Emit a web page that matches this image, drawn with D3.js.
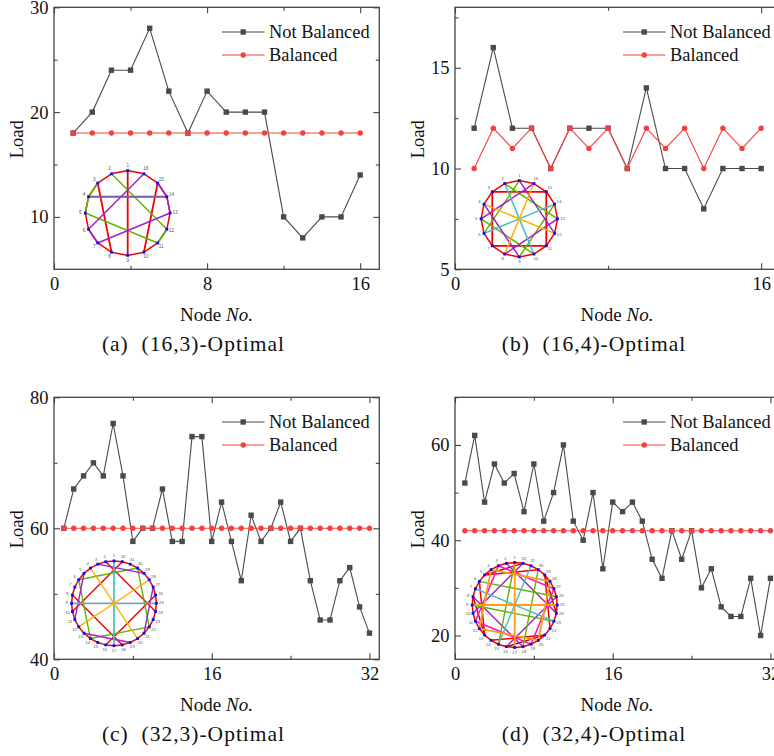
<!DOCTYPE html>
<html>
<head>
<meta charset="utf-8">
<script src="https://cdn.jsdelivr.net/npm/d3@7"></script>
<style>
  html, body { margin: 0; padding: 0; background: #fff; overflow: hidden; }
  svg { display: block; }
  text { font-family: "Liberation Serif", "Times New Roman", serif; fill: #111; }
  .domain { stroke: none; }
  .tick line { stroke: #444; stroke-width: 1.1; }
</style>
</head>
<body>
<script>
const seriesNames = ['Not Balanced', 'Balanced'];

// load per node
const notBalancedA = [18, 20, 24, 24, 28, 22, 18, 22, 20, 20, 20, 10, 8, 10, 10, 14];
const balancedA = [18, 18, 18, 18, 18, 18, 18, 18, 18, 18, 18, 18, 18, 18, 18, 18];

const notBalancedB = [12, 16, 12, 12, 10, 12, 12, 12, 10, 14, 10, 10, 8, 10, 10, 10];
const balancedB = [10, 12, 11, 12, 10, 12, 11, 12, 10, 12, 11, 12, 10, 12, 11, 12];

const notBalancedC = [60, 66, 68, 70, 68, 76, 68, 58, 60, 60, 66, 58, 58, 74, 74, 58,
  64, 58, 52, 62, 58, 60, 64, 58, 60, 52, 46, 46, 52, 54, 48, 44];
const balancedC = [60, 60, 60, 60, 60, 60, 60, 60, 60, 60, 60, 60, 60, 60, 60, 60,
  60, 60, 60, 60, 60, 60, 60, 60, 60, 60, 60, 60, 60, 60, 60, 60];

const notBalancedD = [52, 62, 48, 56, 52, 54, 46, 56, 44, 50, 60, 44, 40, 50, 34, 48,
  46, 48, 44, 36, 32, 42, 36, 42, 30, 34, 26, 24, 24, 32, 20, 32];
const balancedD = [42, 42, 42, 42, 42, 42, 42, 42, 42, 42, 42, 42, 42, 42, 42, 42,
  42, 42, 42, 42, 42, 42, 42, 42, 42, 42, 42, 42, 42, 42, 42, 42];

// graph insets: node pairs, one list per link colour
const redA = [[1, 9], [3, 8], [10, 15]];
const greenA = [[2, 12], [5, 11], [3, 4], [4, 5], [11, 12]];
const purpleA = [[6, 16], [7, 13], [6, 7], [13, 14], [14, 15]];
const slateA = [[4, 14]];

const redB = [[3, 7], [7, 11], [11, 15], [15, 3]];
const greenB = [[1, 6], [5, 10], [9, 14], [13, 2]];
const purpleB = [[1, 12], [5, 16], [9, 4], [13, 8]];
const cyanB = [[2, 10], [6, 14]];
const orangeB = [[4, 12], [8, 16]];

const redC = [[32, 10], [8, 18], [16, 26], [24, 2]];
const greenC = [[6, 14], [14, 22], [22, 30], [30, 6]];
const purpleC = [[3, 29], [5, 11], [13, 19], [21, 27]];
const cyanC = [[1, 17]];
const slateC = [[9, 25]];
const orangeC = [[4, 20], [12, 28]];

const darkRedD = [[5, 32], [13, 8], [21, 16], [29, 24]];
const redD = [[5, 30], [13, 6], [21, 14], [29, 22]];
const purpleD = [[32, 10], [8, 18], [16, 26], [24, 2]];
const greenD = [[1, 15], [30, 18], [9, 23], [6, 26]];
const magentaD = [[3, 27], [11, 3], [19, 11], [27, 19]];
const cyanD = [[7, 23], [15, 31]];
const orangeD = [[1, 17], [9, 25], [4, 12], [12, 20], [20, 28], [28, 4]];

const colors = {
  grey: '#4a4a4a', red: '#f44040', ring: '#f00000', green: '#62b400', purple: '#a41fc4',
  cyan: '#45bcc6', orange: '#ffb000', deepOrange: '#ff9a1a', magenta: '#ff14b8',
  darkRed: '#a80808', slate: '#7a55a8', steel: '#7fa6ae', node: '#0a10f0',
};

const panels = [
  {
    caption: '(a) (16,3)-Optimal', left: 54, top: 7.3, captionX: 193.5, labelX: 23, nodeLabelX: 216.5,
    notBalanced: notBalancedA, balanced: balancedA,
    xMax: 17, xMajor: [0, 8, 16], xMinor: [4, 12],
    yDomain: [5, 30], yMajor: [10, 20, 30], yMinor: [15, 25],
    inset: { n: 16, cx: 127.7, cy: 213, r: 42.4, labelSize: 4.6 },
    links: [[redA, colors.ring, 1.8], [greenA, colors.green, 1.5], [purpleA, colors.purple, 1.5], [slateA, colors.slate, 2]],
  },
  {
    caption: '(b) (16,4)-Optimal', left: 455, top: 7.3, captionX: 594, labelX: 424, nodeLabelX: 617,
    notBalanced: notBalancedB, balanced: balancedB,
    xMax: 17, xMajor: [0, 16], xMinor: [8],
    yDomain: [5, 18], yMajor: [5, 10, 15], yMinor: [7.5, 12.5, 17.5],
    inset: { n: 16, cx: 519.3, cy: 218.8, r: 38.2, labelSize: 4.2 },
    links: [[redB, colors.ring, 1.8], [greenB, colors.green, 1.5], [purpleB, colors.purple, 1.5], [cyanB, colors.cyan, 1.5], [orangeB, colors.orange, 1.5]],
  },
  {
    caption: '(c) (32,3)-Optimal', left: 54, top: 397.3, captionX: 193.5, labelX: 23, nodeLabelX: 216.5,
    notBalanced: notBalancedC, balanced: balancedC,
    xMax: 33, xMajor: [0, 16, 32], xMinor: [8, 24],
    yDomain: [40, 80], yMajor: [40, 60, 80], yMinor: [50, 70],
    inset: { n: 32, cx: 114, cy: 603.3, r: 42.4, labelSize: 4.2 },
    links: [[redC, colors.ring, 1.4], [greenC, colors.green, 1.4], [purpleC, colors.purple, 1.4], [cyanC, colors.cyan, 1.7], [slateC, colors.steel, 1.7], [orangeC, colors.orange, 1.4]],
  },
  {
    caption: '(d) (32,4)-Optimal', left: 455, top: 397.3, captionX: 594, labelX: 424, nodeLabelX: 617,
    notBalanced: notBalancedD, balanced: balancedD,
    xMax: 33, xMajor: [0, 16, 32], xMinor: [8, 24],
    yDomain: [15, 70], yMajor: [20, 40, 60], yMinor: [30, 50, 70],
    inset: { n: 32, cx: 514.7, cy: 605, r: 42.5, labelSize: 4.2 },
    links: [[darkRedD, colors.darkRed, 1.4], [redD, colors.ring, 1.5], [purpleD, colors.purple, 1.4], [magentaD, colors.magenta, 1.6], [greenD, colors.green, 1.4], [cyanD, colors.cyan, 1.4], [orangeD, colors.deepOrange, 1.8]],
  },
];

const w = 774;
const h = 756;
const plotW = 325.3;
const plotH = 262;

const svg = d3.select('body').append('svg').attr('width', w).attr('height', h);

const drawInset = (p) => {
  const { n, cx, cy, r, labelSize } = p.inset;
  const angle = d3.scaleLinear().domain([1, n + 1]).range([0, -2 * Math.PI]);
  const g = svg.append('g').attr('transform', `translate(${cx},${cy})`);
  const pos = (k, rad = r) => d3.pointRadial(angle(k), rad);

  const drawLinks = (pairs, color, width) => {
    g.append('g')
      .selectAll('line')
      .data(pairs)
      .enter()
      .append('line')
      .attr('x1', (d) => pos(d[0])[0])
      .attr('y1', (d) => pos(d[0])[1])
      .attr('x2', (d) => pos(d[1])[0])
      .attr('y2', (d) => pos(d[1])[1])
      .attr('stroke', color)
      .attr('stroke-width', width);
  };

  const nodes = d3.range(1, n + 1);
  drawLinks(nodes.map((k) => [k, k % n + 1]), colors.ring, 1.5);
  p.links.forEach(([pairs, color, width]) => drawLinks(pairs, color, width));

  g.selectAll('rect')
    .data(nodes)
    .enter()
    .append('rect')
    .attr('x', (k) => pos(k)[0] - 1.4)
    .attr('y', (k) => pos(k)[1] - 1.4)
    .attr('width', 2.8)
    .attr('height', 2.8)
    .attr('fill', colors.node);

  g.selectAll('text')
    .data(nodes)
    .enter()
    .append('text')
    .attr('x', (k) => pos(k, r + 5)[0])
    .attr('y', (k) => pos(k, r + 5)[1])
    .attr('text-anchor', 'middle')
    .attr('dominant-baseline', 'middle')
    .style('font-family', '"Liberation Sans", sans-serif')
    .style('font-size', `${labelSize}px`)
    .style('fill', '#555')
    .text((k) => k);
};

const drawPanel = (p) => {
  const x = d3.scaleLinear().domain([0, p.xMax]).range([p.left, p.left + plotW]);
  const y = d3.scaleLinear().domain(p.yDomain).range([p.top + plotH, p.top]);
  const bottom = p.top + plotH;
  const right = p.left + plotW;

  // inward ticks on all four sides, labels only bottom and left
  const tickSets = [
    [d3.axisBottom(x).tickValues(p.xMajor).tickSize(-6).tickPadding(8), 0, bottom, true],
    [d3.axisBottom(x).tickValues(p.xMinor).tickSize(-3.5), 0, bottom, false],
    [d3.axisTop(x).tickValues(p.xMajor).tickSize(-6), 0, p.top, false],
    [d3.axisTop(x).tickValues(p.xMinor).tickSize(-3.5), 0, p.top, false],
    [d3.axisLeft(y).tickValues(p.yMajor).tickSize(-6).tickPadding(5.5), p.left, 0, true],
    [d3.axisLeft(y).tickValues(p.yMinor).tickSize(-3.5), p.left, 0, false],
    [d3.axisRight(y).tickValues(p.yMajor).tickSize(-6), right, 0, false],
    [d3.axisRight(y).tickValues(p.yMinor).tickSize(-3.5), right, 0, false],
  ];
  tickSets.forEach(([axis, tx, ty, labelled]) => {
    const g = svg.append('g')
      .attr('transform', `translate(${tx},${ty})`)
      .call(axis.tickFormat(labelled ? d3.format('d') : ''));
    g.selectAll('text').style('font-size', '18.5px').style('font-family', '"Liberation Serif", serif');
  });

  svg.append('rect')
    .attr('x', p.left)
    .attr('y', p.top)
    .attr('width', plotW)
    .attr('height', plotH)
    .attr('fill', 'none')
    .attr('stroke', '#444')
    .attr('stroke-width', 1.3);

  drawInset(p);

  const line = d3.line().x((d, i) => x(i + 1)).y((d) => y(d));
  const drawSeries = (values, color, shape) => {
    svg.append('path')
      .attr('d', line(values))
      .attr('fill', 'none')
      .attr('stroke', color)
      .attr('stroke-width', 1.1);
    const g = svg.append('g');
    if (shape === 'square') {
      g.selectAll('rect').data(values).enter().append('rect')
        .attr('x', (d, i) => x(i + 1) - 2.7)
        .attr('y', (d) => y(d) - 2.7)
        .attr('width', 5.4)
        .attr('height', 5.4)
        .attr('fill', color);
    } else {
      g.selectAll('circle').data(values).enter().append('circle')
        .attr('cx', (d, i) => x(i + 1))
        .attr('cy', (d) => y(d))
        .attr('r', 2.7)
        .attr('fill', color);
    }
  };
  drawSeries(p.notBalanced, colors.grey, 'square');
  drawSeries(p.balanced, colors.red, 'circle');

  // legend
  const legendY = [p.top + 24.7, p.top + 47.7];
  seriesNames.forEach((name, i) => {
    const lx = p.left + 168;
    const color = i === 0 ? colors.grey : colors.red;
    svg.append('line')
      .attr('x1', lx).attr('x2', lx + 42.5)
      .attr('y1', legendY[i]).attr('y2', legendY[i])
      .attr('stroke', color)
      .attr('stroke-width', 1.1);
    if (i === 0) {
      svg.append('rect')
        .attr('x', lx + 18.5).attr('y', legendY[i] - 2.7)
        .attr('width', 5.4).attr('height', 5.4)
        .attr('fill', color);
    } else {
      svg.append('circle')
        .attr('cx', lx + 21.25).attr('cy', legendY[i])
        .attr('r', 2.7)
        .attr('fill', color);
    }
    svg.append('text')
      .attr('x', lx + 47)
      .attr('y', legendY[i] + 5.5)
      .style('font-size', '18.4px')
      .text(name);
  });

  svg.append('text')
    .attr('transform', `translate(${p.labelX},${p.top + 132}) rotate(-90)`)
    .attr('text-anchor', 'middle')
    .style('font-size', '18.5px')
    .text('Load');

  const nodeLabel = svg.append('text')
    .attr('x', p.nodeLabelX)
    .attr('y', bottom + 52)
    .attr('text-anchor', 'middle')
    .style('font-size', '19px');
  nodeLabel.append('tspan').text('Node ');
  nodeLabel.append('tspan').style('font-style', 'italic').text('No.');

  svg.append('text')
    .attr('x', p.captionX)
    .attr('y', bottom + 82)
    .attr('text-anchor', 'middle')
    .style('font-size', '21.5px')
    .style('letter-spacing', '1px')
    .style('white-space', 'pre')
    .text(p.caption.replace(') (', ')  ('));
};

panels.forEach(drawPanel);
</script>
</body>
</html>
